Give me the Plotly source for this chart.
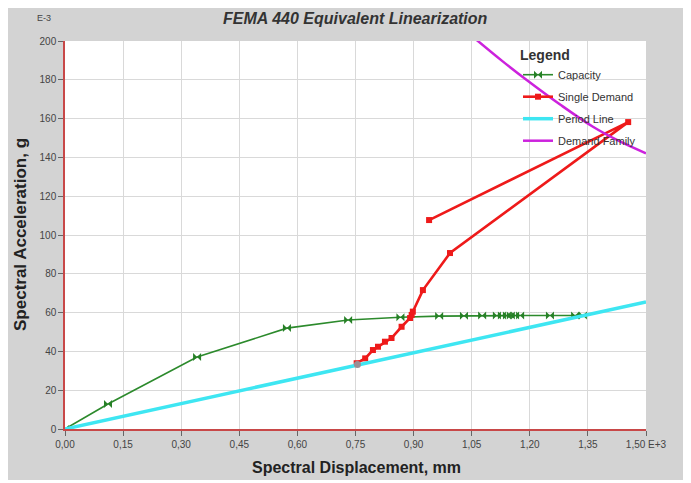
import plotly.graph_objects as go

# ---- data ----
cap_x = [0.0, 0.111, 0.341, 0.573, 0.731, 0.866, 0.966, 1.030, 1.077, 1.115, 1.128, 1.141,
         1.151, 1.162, 1.175, 1.252, 1.317, 1.337]
cap_y = [0.0, 12.9, 37.1, 52.0, 56.2, 57.6, 58.2, 58.4, 58.5, 58.5, 58.5, 58.5,
         58.5, 58.5, 58.5, 58.5, 58.5, 58.5]

dem_x = [0.753, 0.775, 0.795, 0.808, 0.826, 0.843, 0.869, 0.891, 0.895, 0.898, 0.924, 0.994, 1.454, 0.940]
dem_y = [33.9, 36.4, 40.7, 42.4, 45.0, 46.9, 52.7, 57.2, 58.8, 60.5, 71.6, 90.7, 158.2, 107.7]

per_x = [0.0, 1.5]
per_y = [0.0, 65.5]

fam_x = [1.060, 1.130, 1.192, 1.280, 1.363, 1.430, 1.500]
fam_y = [201.0, 189.5, 179.9, 167.0, 155.8, 148.5, 142.1]

pp_x = [0.755]
pp_y = [33.2]

x_ticks = [0.0, 0.15, 0.30, 0.45, 0.60, 0.75, 0.90, 1.05, 1.20, 1.35, 1.50]
x_labels = ["0,00", "0,15", "0,30", "0,45", "0,60", "0,75", "0,90", "1,05", "1,20", "1,35", "1,50 E+3"]
y_ticks = [0, 20, 40, 60, 80, 100, 120, 140, 160, 180, 200]
y_labels = [str(v) for v in y_ticks]

FONT = "Liberation Sans, Arial, sans-serif"
OFF = 8  # page body margin
W, H = 691 - OFF, 483 - OFF
L, T = 65 - OFF, 41 - OFF
pw, ph = 581, 388
R, B = W - L - pw, H - T - ph

def px_x(p):
    return (p - OFF - L) / pw

def px_y(p):
    return (T + ph - (p - OFF)) / ph

fig = go.Figure()

fig.add_trace(go.Scatter(x=cap_x, y=cap_y, mode="lines+markers", name="Capacity",
                         line=dict(color="#2c8a2c", width=1.6),
                         marker=dict(symbol="bowtie", size=8, color="#268026"),
                         legendgroup="a"))
fig.add_trace(go.Scatter(x=dem_x, y=dem_y, mode="lines+markers", name="Single Demand",
                         line=dict(color="#ee1a1a", width=2.6),
                         marker=dict(symbol="square", size=6, color="#ee1a1a"),
                         legendgroup="b"))
fig.add_trace(go.Scatter(x=per_x, y=per_y, mode="lines", name="Period Line",
                         line=dict(color="#3ee6f2", width=3.5), legendgroup="c"))
fig.add_trace(go.Scatter(x=fam_x, y=fam_y, mode="lines", name="Demand Family",
                         line=dict(color="#cc22dd", width=2.5, shape="spline"),
                         legendgroup="d"))
fig.add_trace(go.Scatter(x=pp_x, y=pp_y, mode="markers", showlegend=False,
                         marker=dict(symbol="circle", size=7, color="#9a8f95")))

# background panels
fig.add_shape(type="rect", xref="paper", yref="paper", layer="below",
              x0=px_x(4), x1=px_x(688), y0=px_y(480), y1=px_y(7),
              fillcolor="#d3d3d3", line=dict(width=0))
fig.add_shape(type="rect", xref="paper", yref="paper", layer="below",
              x0=0, x1=1, y0=0, y1=1, fillcolor="white", line=dict(width=0))

fig.update_layout(
    width=W, height=H,
    margin=dict(l=L, r=R, t=T, b=B),
    paper_bgcolor="white", plot_bgcolor="rgba(0,0,0,0)",
    font=dict(family=FONT, size=10, color="#444444"),
    showlegend=True,
    legend=dict(x=px_x(518), y=px_y(42), xanchor="left", yanchor="top",
                bgcolor="rgba(0,0,0,0)", borderwidth=0,
                font=dict(family=FONT, size=11, color="#333333"),
                title=dict(text="<b>Legend</b>", font=dict(family=FONT, size=14, color="#333333")),
                traceorder="grouped", tracegroupgap=3, itemwidth=30),
    xaxis=dict(range=[0, 1.5], tickvals=x_ticks, ticktext=x_labels,
               showgrid=True, gridcolor="#d9d9d9", gridwidth=1,
               showline=True, linecolor="#c84848", linewidth=1.5,
               ticks="outside", ticklen=5, tickcolor="#666666",
               zeroline=False, tickfont=dict(size=10, color="#444444")),
    yaxis=dict(range=[0, 200], tickvals=y_ticks, ticktext=y_labels,
               showgrid=True, gridcolor="#d9d9d9", gridwidth=1,
               showline=True, linecolor="#c84848", linewidth=1.5,
               ticks="outside", ticklen=5, tickcolor="#666666",
               zeroline=False, tickfont=dict(size=10, color="#444444")),
    annotations=[
        dict(text="<b><i>FEMA 440 Equivalent Linearization</i></b>", xref="paper", yref="paper",
             x=0.5, y=px_y(19), xanchor="center", yanchor="middle", showarrow=False,
             font=dict(family=FONT, size=16, color="#333333")),
        dict(text="<b>Spectral Displacement, mm</b>", xref="paper", yref="paper",
             x=px_x(356), y=px_y(467), xanchor="center", yanchor="middle", showarrow=False,
             font=dict(family=FONT, size=16, color="#222222")),
        dict(text="<b>Spectral Acceleration, g</b>", xref="paper", yref="paper",
             x=px_x(20), y=0.5, xanchor="center", yanchor="middle", showarrow=False,
             textangle=-90, font=dict(family=FONT, size=17, color="#222222")),
        dict(text="E-3", xref="paper", yref="paper",
             x=px_x(44), y=px_y(18), xanchor="center", yanchor="middle", showarrow=False,
             font=dict(family=FONT, size=9, color="#444444")),
    ],
)

fig.write_html("out.html")
